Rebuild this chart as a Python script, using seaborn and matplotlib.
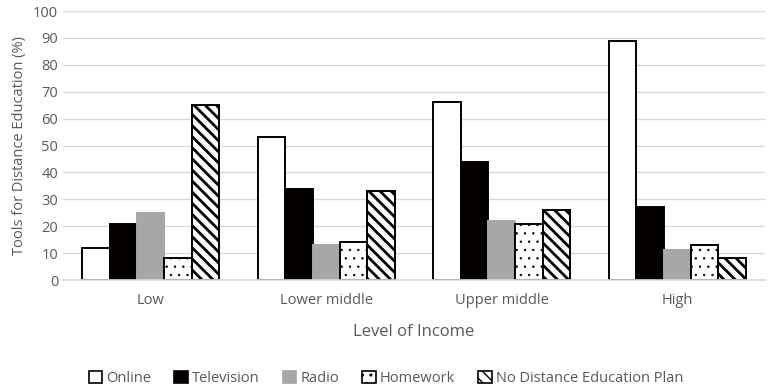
import matplotlib
matplotlib.use("Agg")
import matplotlib.pyplot as plt
import seaborn as sns
import pandas as pd
from matplotlib.patches import Patch

income_levels = ["Low", "Lower middle", "Upper middle", "High"]
tools = ["Online", "Television", "Radio", "Homework", "No Distance Education Plan"]
online = [12, 53, 66, 89]
television = [21, 34, 44, 27]
radio = [25, 13, 22, 11]
homework = [8, 14, 21, 13]
no_plan = [65, 33, 26, 8]

series = [online, television, radio, homework, no_plan]
rows = []
for tool, vals in zip(tools, series):
    for lvl, v in zip(income_levels, vals):
        rows.append({"Level of Income": lvl, "Tool": tool, "Value": v})
df = pd.DataFrame(rows)

sns.set_theme(style="white")
plt.rcParams["font.family"] = ["Open Sans", "DejaVu Sans"]

styles = {
    "Online": dict(face="white", edge="black", hatch="", hlw=1.0),
    "Television": dict(face="#050000", edge="#050000", hatch="", hlw=1.0),
    "Radio": dict(face="#A5A7A9", edge="#A5A7A9", hatch="", hlw=1.0),
    "Homework": dict(face="white", edge="black", hatch="..", hlw=0.5),
    "No Distance Education Plan": dict(face="white", edge="black", hatch="\\\\\\", hlw=2.0),
}


def style_patch(p, st, lw):
    p.set_facecolor(st["face"])
    p.set_edgecolor(st["edge"])
    p.set_linewidth(lw)
    if st["hatch"]:
        p.set_hatch(st["hatch"])
        if hasattr(p, "set_hatch_linewidth"):
            p.set_hatch_linewidth(st["hlw"])


fig = plt.figure(figsize=(7.72, 3.86), dpi=100)
ax = fig.add_axes([0.0816, 0.2746, 0.9094, 0.6969])

sns.barplot(data=df, x="Level of Income", y="Value", hue="Tool",
            order=income_levels, hue_order=tools, width=0.78,
            palette=["white"] * 5, ax=ax, legend=False, saturation=1)

for container, tool in zip(ax.containers, tools):
    for bar in container:
        style_patch(bar, styles[tool], 1.4)

ax.set_ylim(0, 100)
ax.set_yticks(range(0, 101, 10))
ax.yaxis.grid(True, color="#D9D9D9", linewidth=1)
ax.set_axisbelow(True)
for s in ["top", "right", "left"]:
    ax.spines[s].set_visible(False)
ax.spines["bottom"].set_color("#D9D9D9")
ax.spines["bottom"].set_linewidth(1.2)
ax.tick_params(axis="both", length=0, labelsize=10.5, colors="#595959")
ax.tick_params(axis="x", pad=9)
ax.set_ylabel("Tools for Distance Education (%)", fontsize=10.5, color="#595959")
ax.set_xlabel("Level of Income", fontsize=12, color="#595959", labelpad=12)

handles = []
for tool in tools:
    h = Patch(label=tool)
    style_patch(h, styles[tool], 1.2)
    handles.append(h)
fig.legend(handles=handles, loc="lower center", ncol=5, frameon=False,
           bbox_to_anchor=(0.5, -0.035), fontsize=10.5, handlelength=0.9,
           handleheight=0.9, handletextpad=0.3, columnspacing=1.6,
           labelcolor="#595959")

fig.savefig("out.png", dpi=100)
